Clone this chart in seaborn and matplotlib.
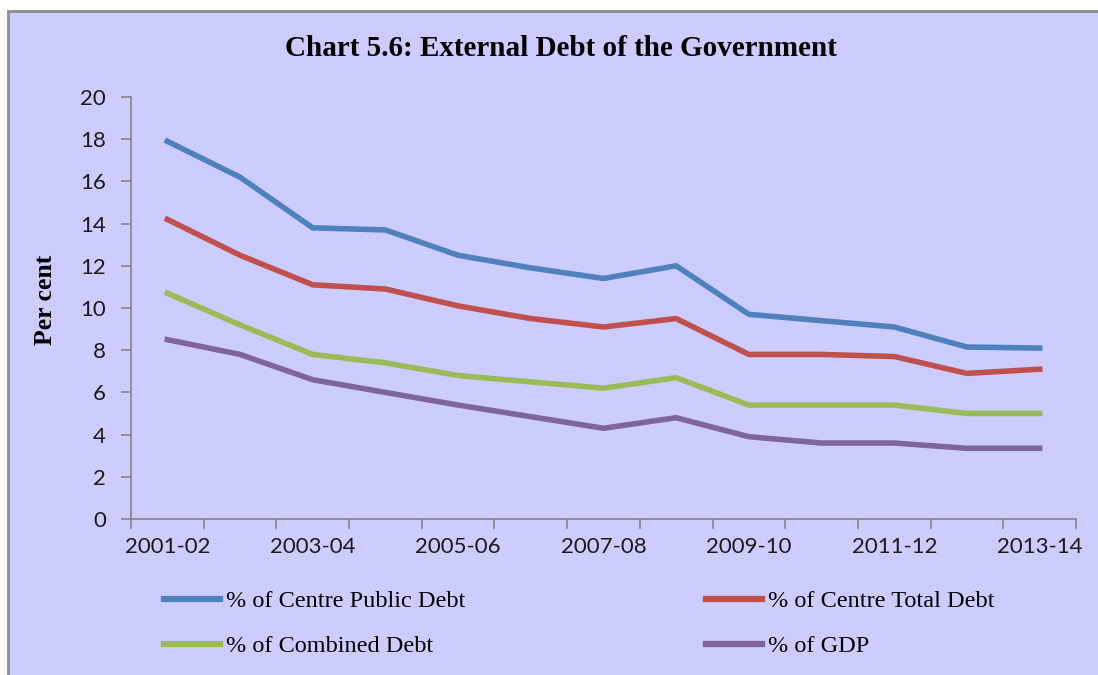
import pandas as pd
import matplotlib.pyplot as plt
import seaborn as sns
from matplotlib.patches import Rectangle

# Datos
years = ["2001-02", "2002-03", "2003-04", "2004-05", "2005-06", "2006-07", "2007-08",
         "2008-09", "2009-10", "2010-11", "2011-12", "2012-13", "2013-14"]
centre_public = [17.9, 16.2, 13.8, 13.7, 12.5, 11.9, 11.4, 12.0, 9.7, 9.4, 9.1, 8.15, 8.1]
centre_total = [14.2, 12.5, 11.1, 10.9, 10.1, 9.5, 9.1, 9.5, 7.8, 7.8, 7.7, 6.9, 7.1]
combined = [10.7, 9.2, 7.8, 7.4, 6.8, 6.5, 6.2, 6.7, 5.4, 5.4, 5.4, 5.0, 5.0]
gdp = [8.5, 7.8, 6.6, 6.0, 5.4, 4.85, 4.3, 4.8, 3.9, 3.6, 3.6, 3.35, 3.35]

series_names = ["% of Centre Public Debt", "% of Centre Total Debt",
                "% of Combined Debt", "% of GDP"]
colors = ["#4F81BD", "#C0504D", "#9BBB59", "#8064A2"]

bg = "#CCCCFF"
axis_gray = "#868686"

# Tabla larga para seaborn
rows = []
for name, vals in zip(series_names, [centre_public, centre_total, combined, gdp]):
    for i, (yr, v) in enumerate(zip(years, vals)):
        rows.append({"pos": i, "Year": yr, "Value": v, "Series": name})
df = pd.DataFrame(rows)

fig = plt.figure(figsize=(10.98, 6.75), dpi=100)
fig.patch.set_facecolor("white")
fig.patches.append(Rectangle((8 / 1098, -0.02), 1.1, (675 - 11) / 675 + 0.02,
                             transform=fig.transFigure, facecolor=bg,
                             edgecolor="#8C8C8C", linewidth=2, zorder=-1))

ax = fig.add_axes([131 / 1098, 1 - 519 / 675, (1076 - 131) / 1098, (519 - 97) / 675])
ax.set_facecolor("none")

sns.lineplot(data=df, x="pos", y="Value", hue="Series", hue_order=series_names,
             palette=colors, linewidth=4, ax=ax, sort=False)

handles, labels = ax.get_legend_handles_labels()
ax.get_legend().remove()
for h in handles:
    h.set_linewidth(4.5)
order = [0, 2, 1, 3]
fig.legend([handles[i] for i in order], [labels[i] for i in order],
           loc="upper left", bbox_to_anchor=(152 / 1098, 1 - 578 / 675),
           ncol=2, frameon=False, borderpad=0, handlelength=2.3,
           handletextpad=0.25, columnspacing=9.9, labelspacing=0.95,
           prop={"family": "Liberation Serif", "size": 17.5})

ax.set_xlim(-0.5, 12.5)
ax.set_ylim(0, 20)
ax.set_yticks(range(0, 21, 2))
ax.set_xticks(range(0, 13, 2))
ax.set_xticklabels(years[::2])
ax.set_xticks([i - 0.5 for i in range(14)], minor=True)
ax.tick_params(axis="x", which="major", length=0, pad=13)
ax.tick_params(axis="x", which="minor", length=7, width=1.2, color=axis_gray)
ax.tick_params(axis="y", length=7, width=1.2, color=axis_gray, pad=11)
for lab in ax.get_xticklabels() + ax.get_yticklabels():
    lab.set_fontfamily("Lato")
    lab.set_fontsize(16)
    lab.set_color("#1a1a1a")

for side in ["top", "right"]:
    ax.spines[side].set_visible(False)
for side in ["left", "bottom"]:
    ax.spines[side].set_color(axis_gray)
    ax.spines[side].set_linewidth(1.2)

ax.set_xlabel("")
ax.set_ylabel("Per cent", family="Liberation Serif", fontweight="bold", fontsize=18.5)
ax.yaxis.set_label_coords((57 - 131) / 945, (519 - 300) / 422)

fig.text(0.511, 1 - 48 / 675, "Chart 5.6: External Debt of the Government",
         ha="center", va="center", family="Liberation Serif",
         fontweight="bold", fontsize=21)

fig.savefig("out.png", dpi=100)
